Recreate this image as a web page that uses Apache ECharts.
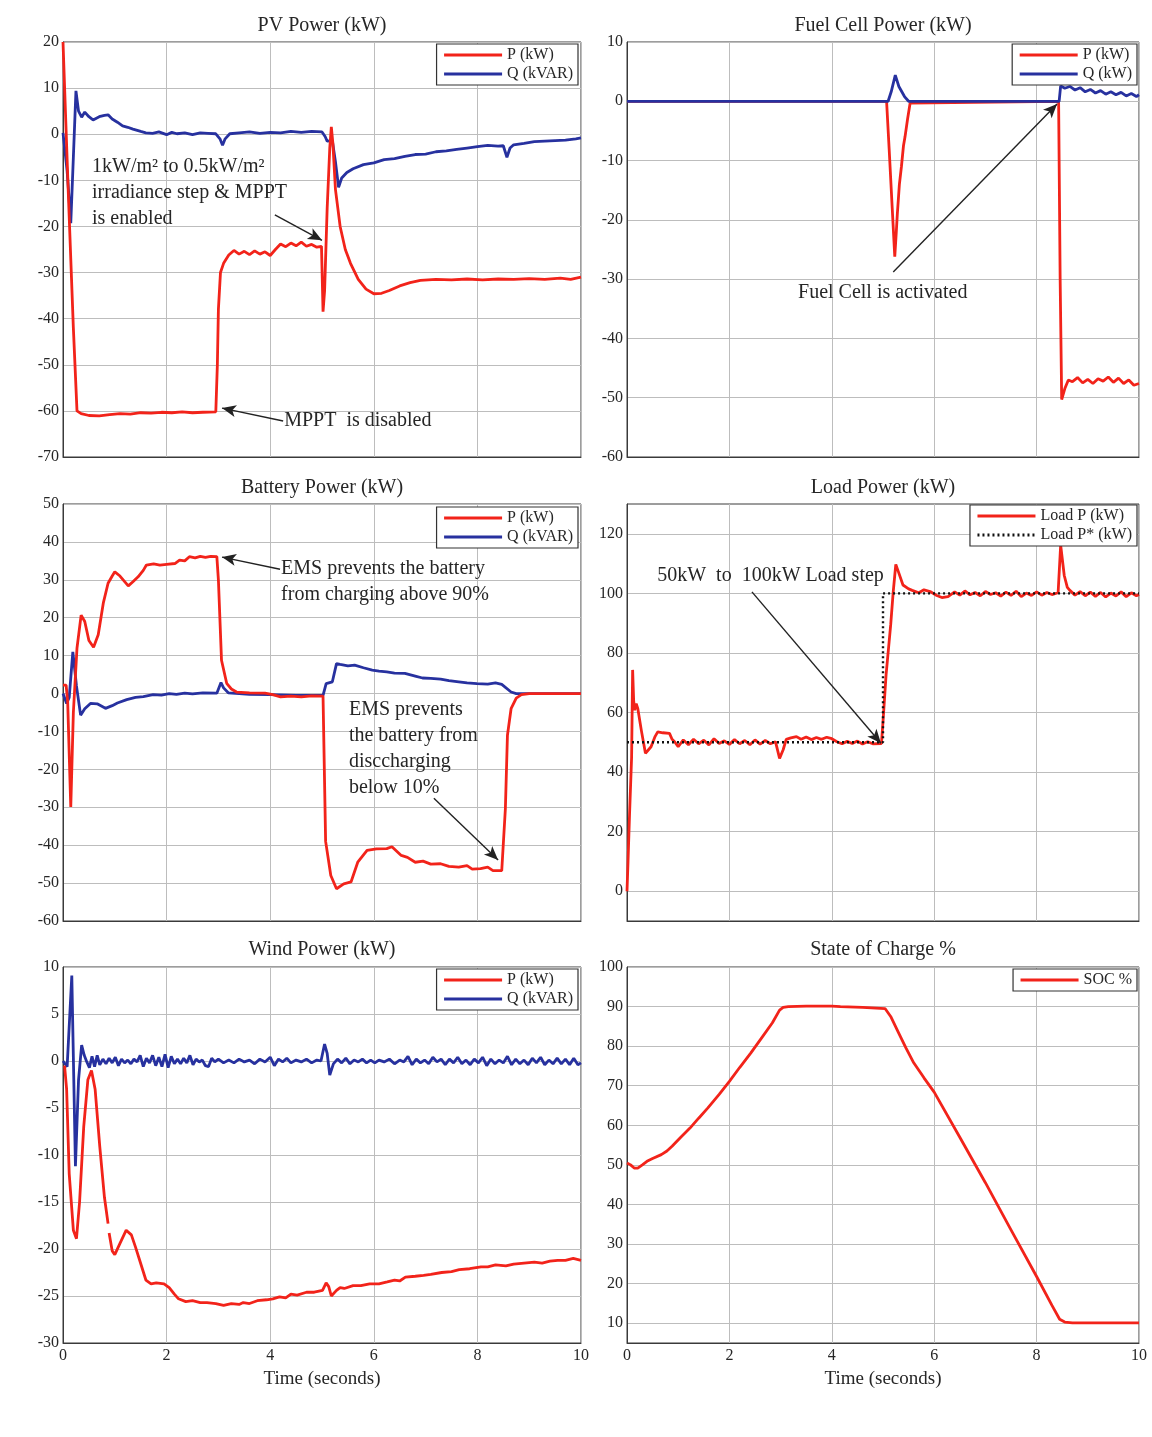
<!DOCTYPE html>
<html>
<head>
<meta charset="utf-8">
<script src="https://cdn.jsdelivr.net/npm/echarts@6/dist/echarts.min.js"></script>
<style>
  html, body { margin: 0; padding: 0; background: #fff; }
  #main { width: 1152px; height: 1437px; }
</style>
</head>
<body>
<div id="main"></div>
<script>
  // time axis ticks (seconds)
  var timeTicks = [0, 2, 4, 6, 8, 10];

  // PV power
  var pvP = [[0,20],[0.1,-12],[0.2,-42],[0.27,-60],[0.35,-60.6],[0.5,-61],[0.7,-61.1],[0.9,-60.8],[1.1,-60.6],[1.3,-60.7],[1.5,-60.4],[1.7,-60.5],[1.9,-60.3],[2.1,-60.4],[2.3,-60.2],[2.5,-60.4],[2.7,-60.3],[2.95,-60.2],
    [2.98,-50],[3.0,-38],[3.04,-30],[3.1,-28],[3.2,-26.2],[3.3,-25.2],[3.4,-26],[3.5,-25.4],[3.6,-26.1],[3.7,-25.3],[3.8,-26],[3.9,-25.5],[4.0,-26.3],[4.1,-25],[4.2,-23.8],[4.3,-24.4],[4.4,-23.6],[4.5,-24.2],[4.6,-23.4],[4.7,-24.3],[4.8,-23.9],[4.9,-24.5],[4.99,-24.3],
    [5.02,-38.5],[5.05,-34],[5.1,-16],[5.15,-3],[5.18,1.6],[5.21,-2],[5.26,-12],[5.35,-20],[5.45,-25],[5.55,-28],[5.7,-31.5],[5.85,-33.6],[6.0,-34.6],[6.15,-34.5],[6.3,-33.9],[6.5,-32.9],[6.7,-32.2],[6.9,-31.7],[7.2,-31.5],[7.5,-31.6],[7.8,-31.4],[8.1,-31.6],[8.4,-31.4],[8.7,-31.5],[9.0,-31.3],[9.3,-31.5],[9.6,-31.2],[9.8,-31.5],[10,-31]];
  var pvQ = [[0,0.3],[0.08,-8],[0.15,-19.3],[0.2,-5],[0.25,9.4],[0.3,5],[0.36,3.7],[0.42,4.8],[0.5,3.8],[0.58,3.1],[0.7,3.8],[0.8,4.1],[0.87,4.2],[0.95,3.3],[1.05,2.6],[1.15,1.8],[1.25,1.5],[1.35,1.1],[1.5,0.6],[1.6,0.3],[1.73,0.2],[1.85,0.5],[2.0,-0.1],[2.1,0.4],[2.2,0.1],[2.35,0.3],[2.5,-0.1],[2.65,0.3],[2.8,0.2],[2.95,0.1],
    [3.03,-1],[3.08,-2.4],[3.13,-1],[3.22,0.1],[3.4,0.3],[3.6,0.5],[3.8,0.2],[4.0,0.4],[4.2,0.3],[4.4,0.6],[4.6,0.4],[4.8,0.6],[5.0,0.5],[5.06,-0.5],[5.1,-1.5],[5.2,-1.4],[5.26,-6],[5.32,-11.5],[5.38,-9.5],[5.48,-8.3],[5.6,-7.5],[5.8,-6.6],[6.0,-6.2],[6.2,-5.5],[6.4,-5.3],[6.6,-4.8],[6.8,-4.4],[7.0,-4.3],[7.2,-3.8],[7.4,-3.6],[7.6,-3.3],[7.8,-3.0],[8.0,-2.7],[8.2,-2.4],[8.4,-2.6],[8.5,-2.5],[8.57,-5.0],[8.63,-3],[8.7,-2.3],[8.9,-2.0],[9.1,-1.6],[9.3,-1.5],[9.5,-1.4],[9.7,-1.3],[9.9,-1.0],[10,-0.8]];

  // Fuel cell power
  var fcP = [[0,0],[5.07,0],[5.12,-8],[5.18,-18],[5.23,-26.2],[5.26,-22],[5.28,-19],[5.32,-14],[5.36,-11],[5.4,-7.5],[5.43,-6],[5.48,-3],[5.53,-0.3],[5.56,0],[8.43,0],[8.46,-30],[8.49,-50.3],[8.55,-48.5],[8.62,-47],[8.7,-47.3],[8.8,-46.6],[8.9,-47.5],[9.0,-46.9],[9.1,-47.6],[9.2,-46.8],[9.3,-47.2],[9.4,-46.5],[9.5,-47.4],[9.6,-46.7],[9.7,-47.6],[9.8,-47.0],[9.9,-47.9],[10,-47.6]];
  var fcQ = [[0,0],[5.1,0],[5.16,1.6],[5.24,4.4],[5.31,2.5],[5.42,0.8],[5.5,0],[8.44,0],[8.47,2.6],[8.55,2.2],[8.65,2.5],[8.75,1.9],[8.85,2.3],[8.95,1.6],[9.05,2.0],[9.15,1.4],[9.25,1.8],[9.35,1.2],[9.45,1.6],[9.55,1.1],[9.65,1.5],[9.75,0.9],[9.85,1.3],[9.95,0.8],[10,1.1]];

  // Battery power
  var batP = [[0,2.2],[0.06,2.2],[0.09,-2],[0.15,-29.9],[0.2,-5],[0.27,12],[0.35,20.7],[0.42,19],[0.5,14],[0.59,12.2],[0.68,15.5],[0.78,24],[0.87,29.1],[0.95,31],[1.0,32.1],[1.1,31],[1.26,28.4],[1.35,29.5],[1.45,30.8],[1.55,32.5],[1.61,33.9],[1.75,34.2],[1.87,33.9],[2.0,34.1],[2.16,34.3],[2.25,35.2],[2.35,35.0],[2.44,36.1],[2.55,35.8],[2.65,36.2],[2.75,35.9],[2.85,36.2],[2.97,36.1],
    [3.0,30],[3.06,8.8],[3.16,2.7],[3.25,1.2],[3.35,0.4],[3.6,0.2],[3.9,0.1],[4.05,-0.3],[4.2,-0.9],[4.4,-0.7],[4.6,-0.9],[4.8,-0.6],[5.02,-0.7],[5.07,-39],[5.17,-48],[5.28,-51.5],[5.42,-50.2],[5.56,-49.7],[5.69,-44.5],[5.87,-41.4],[6.05,-41],[6.25,-40.9],[6.35,-40.4],[6.53,-42.7],[6.65,-43.2],[6.8,-44.5],[6.95,-44.2],[7.1,-45],[7.29,-44.9],[7.45,-45.6],[7.64,-45.8],[7.8,-45.4],[7.9,-46.3],[8.06,-46.2],[8.2,-45.8],[8.3,-46.7],[8.47,-46.7],
    [8.54,-30.4],[8.58,-11],[8.65,-4],[8.75,-1.2],[8.85,-0.3],[9.0,0],[10,0]];
  var batQ = [[0,0],[0.07,-2.6],[0.12,-1],[0.19,11],[0.26,2],[0.34,-5.7],[0.42,-4],[0.53,-2.6],[0.66,-2.7],[0.82,-3.9],[0.95,-3.2],[1.05,-2.5],[1.23,-1.6],[1.4,-1.0],[1.55,-0.8],[1.74,-0.3],[1.9,-0.4],[2.05,0],[2.19,-0.2],[2.35,0.1],[2.5,-0.1],[2.7,0.2],[2.97,0.1],[3.05,2.9],[3.1,1.5],[3.19,0.2],[3.4,0],[3.6,-0.2],[4.0,-0.3],[4.5,-0.5],[5.02,-0.5],
    [5.08,2.6],[5.2,3.1],[5.28,7.9],[5.35,7.7],[5.5,7.3],[5.63,7.5],[5.8,6.8],[5.97,6.2],[6.1,5.9],[6.25,5.7],[6.4,5.4],[6.6,5.3],[6.8,4.6],[6.94,4.1],[7.1,4.0],[7.29,3.8],[7.45,3.4],[7.64,3.1],[7.8,2.8],[7.99,2.6],[8.2,2.5],[8.35,2.8],[8.47,2.4],[8.65,0.4],[8.75,0],[10,0]];

  // Load power
  var loadP = [[0,0],[0.02,10],[0.05,26],[0.07,26],[0.09,45],[0.11,74.3],[0.13,64],[0.15,60.8],[0.18,63],[0.21,61.4],[0.28,54],[0.36,46.3],[0.42,47.5],[0.47,48.5],[0.55,52],[0.6,53.5],[0.7,53.2],[0.83,53],[0.88,51],[0.93,50.2],[1.0,48.5],[1.1,50.8],[1.2,49.2],[1.3,51],[1.4,49.5],[1.5,50.7],[1.6,49.1],[1.7,51.2],[1.8,49.6],[1.9,50.5],[2.0,49.3],[2.1,50.9],[2.2,49.5],[2.3,50.6],[2.4,49.2],[2.5,50.8],[2.6,49.4],[2.7,50.6],[2.8,49.5],[2.9,50.2],[2.98,44.6],[3.05,47.5],[3.11,51],[3.2,51.5],[3.31,51.9],[3.4,51.0],[3.5,51.8],[3.6,50.9],[3.7,51.6],[3.8,51.0],[3.9,51.7],[4.0,51.2],[4.1,50.2],[4.2,49.5],[4.3,50.3],[4.4,49.6],[4.5,50.4],[4.6,49.4],[4.7,50.2],[4.8,49.5],[4.97,49.6],
    [5.0,56.9],[5.06,72.6],[5.15,89.4],[5.2,100.6],[5.25,109.7],[5.3,107.3],[5.39,102.8],[5.5,101.5],[5.57,101],[5.7,100.2],[5.8,101.2],[5.92,100.6],[6.05,99.3],[6.15,98.6],[6.27,98.9],[6.4,100.5],[6.5,99.4],[6.6,100.8],[6.7,99.5],[6.8,100.3],[6.9,99.2],[7.0,100.6],[7.1,99.6],[7.2,100.2],[7.3,99.1],[7.4,100.4],[7.5,99.3],[7.6,100.7],[7.7,98.9],[7.8,100.1],[7.9,99.3],[8.0,100.5],[8.1,99.4],[8.2,100.3],[8.3,99.6],[8.42,100.2],
    [8.47,116.2],[8.54,106],[8.6,102],[8.65,101],[8.75,99.4],[8.85,100.6],[8.95,99.2],[9.05,100.4],[9.15,99.0],[9.25,100.3],[9.35,98.8],[9.45,100.1],[9.55,99.1],[9.65,100.5],[9.75,98.9],[9.85,100.2],[9.95,99.2],[10,99.6]];
  var loadRef = [[0,50],[5,50],[5,100],[10,100]];
  var loadTicks = [0, 20, 40, 60, 80, 100, 120];

  // Wind power
  var windP = [[0.03,-0.5],[0.07,-3],[0.12,-12],[0.2,-18],[0.26,-18.9],[0.32,-15],[0.4,-7],[0.48,-2],[0.55,-1.0],[0.62,-3],[0.71,-9.1],[0.8,-14.5],[0.87,-17.3],[0.88,null],[0.89,-18.3],[0.95,-20.2],[1.0,-20.6],[1.1,-19.4],[1.22,-18],[1.32,-18.5],[1.4,-19.8],[1.48,-21.2],[1.6,-23.3],[1.7,-23.7],[1.8,-23.6],[1.95,-23.7],[2.05,-24.1],[2.15,-24.8],[2.23,-25.3],[2.37,-25.6],[2.5,-25.5],[2.65,-25.7],[2.78,-25.7],[2.95,-25.8],[3.1,-26],[3.25,-25.8],[3.4,-25.9],[3.48,-25.7],[3.6,-25.8],[3.75,-25.5],[3.93,-25.4],[4.05,-25.3],[4.18,-25.1],[4.3,-25.2],[4.4,-24.8],[4.52,-24.9],[4.7,-24.6],[4.85,-24.6],[5.01,-24.4],
    [5.08,-23.6],[5.13,-24.0],[5.18,-25.0],[5.28,-24.4],[5.35,-24.1],[5.43,-24.2],[5.6,-23.9],[5.75,-23.9],[5.92,-23.7],[6.1,-23.7],[6.26,-23.5],[6.4,-23.3],[6.5,-23.4],[6.61,-23.0],[6.8,-22.9],[6.96,-22.8],[7.1,-22.7],[7.31,-22.5],[7.5,-22.4],[7.65,-22.2],[7.85,-22.1],[8.07,-21.9],[8.2,-21.9],[8.35,-21.7],[8.55,-21.8],[8.7,-21.6],[8.9,-21.5],[9.1,-21.4],[9.25,-21.5],[9.4,-21.3],[9.55,-21.2],[9.7,-21.2],[9.85,-21.0],[10,-21.2]];
  var windQ = [[0,0],[0.08,-0.6],[0.17,9.1],[0.24,-11.2],[0.3,-2],[0.36,1.7],[0.41,0.6],[0.46,-0.1],[0.51,-0.7],[0.56,0.5],[0.61,-0.6],[0.66,0.6],[0.71,-0.4],[0.77,0.2],[0.83,-0.3],[0.89,0.3],[0.95,-0.2],[1.01,0.4],[1.07,-0.5],[1.13,0.2],[1.19,-0.2],[1.25,0.1],[1.31,-0.3],[1.37,0.2],[1.43,-0.1],[1.49,0.6],[1.55,-0.6],[1.61,0.3],[1.67,-0.2],[1.73,0.6],[1.79,-0.5],[1.85,0.4],[1.91,-0.6],[1.97,0.7],[2.03,-0.7],[2.09,0.5],[2.15,-0.3],[2.21,0.2],[2.27,-0.3],[2.33,0.3],[2.39,-0.2],[2.45,0.6],[2.51,-0.4],[2.57,0.2],[2.63,-0.1],[2.69,0.1],[2.75,-0.5],[2.81,-0.6],[2.87,0.3],[2.93,-0.1],[3.0,0.2],[3.1,-0.2],[3.2,0.1],[3.3,-0.2],[3.4,0.2],[3.5,-0.1],[3.6,0.1],[3.7,-0.3],[3.8,0.2],[3.9,-0.1],[4.0,0.4],[4.08,-0.5],[4.16,0.2],[4.24,-0.1],[4.32,0.3],[4.4,-0.2],[4.5,0.1],[4.6,-0.1],[4.7,0.2],[4.8,-0.2],[4.9,0.1],[4.98,0],
    [5.05,1.8],[5.1,0.8],[5.15,-1.5],[5.22,-0.3],[5.3,0.2],[5.38,-0.2],[5.46,0.3],[5.54,-0.3],[5.62,0.1],[5.7,-0.1],[5.78,0.2],[5.86,-0.2],[5.94,0.1],[6.02,-0.2],[6.1,0.1],[6.2,-0.1],[6.3,0.2],[6.4,-0.3],[6.5,0.1],[6.58,-0.1],[6.66,0.5],[6.74,-0.4],[6.82,0.2],[6.9,-0.2],[6.98,0.1],[7.06,-0.3],[7.14,0.4],[7.22,-0.1],[7.3,0.2],[7.38,-0.4],[7.46,0.2],[7.54,-0.2],[7.62,0.4],[7.7,-0.3],[7.78,0.1],[7.86,-0.4],[7.94,0.2],[8.02,-0.2],[8.1,0.4],[8.18,-0.5],[8.26,0.2],[8.34,-0.3],[8.42,0.1],[8.5,-0.2],[8.58,0.5],[8.66,-0.4],[8.74,0.2],[8.82,-0.3],[8.9,0.1],[8.98,-0.4],[9.06,0.3],[9.14,-0.2],[9.22,0.4],[9.3,-0.4],[9.38,0.1],[9.46,-0.3],[9.54,0.3],[9.62,-0.3],[9.7,0.2],[9.78,-0.4],[9.86,0.3],[9.94,-0.4],[10,-0.2]];

  // State of charge
  var soc = [[0,50.5],[0.07,50],[0.14,49.2],[0.21,49.2],[0.3,50],[0.39,50.9],[0.5,51.6],[0.67,52.6],[0.78,53.5],[0.88,54.7],[1.05,57],[1.23,59.3],[1.4,61.8],[1.58,64.4],[1.8,67.8],[2.0,71.1],[2.2,74.6],[2.42,78.3],[2.63,82.1],[2.84,85.9],[2.98,89.1],[3.05,89.8],[3.15,90],[3.5,90.1],[4.0,90.1],[4.17,90],[4.6,89.8],[5.04,89.5],
    [5.15,87.5],[5.3,83.5],[5.45,79.5],[5.6,75.8],[5.8,72],[6.0,68.4],[6.5,57],[7.0,45.5],[7.5,33.6],[8.0,21.8],[8.3,14.5],[8.45,11],[8.55,10.3],[8.7,10.1],[10,10.1]];
  var socTicks = [10, 20, 30, 40, 50, 60, 70, 80, 90, 100];

  var RED = '#f2231a';
  var BLUE = '#27319f';
  var SERIF = 'Liberation Serif';
  var TXT = '#262626';

  var chart = echarts.init(document.getElementById('main'), null, { renderer: 'canvas' });

  var cells = [
    { left: 63, top: 42, width: 518, height: 415 },
    { left: 627, top: 42, width: 512, height: 415 },
    { left: 63, top: 504, width: 518, height: 417 },
    { left: 627, top: 504, width: 512, height: 417 },
    { left: 63, top: 967, width: 518, height: 376 },
    { left: 627, top: 967, width: 512, height: 376 }
  ];

  function mkX(i) {
    var bottom = i >= 4;
    return {
      type: 'value', gridIndex: i, min: 0, max: 10, interval: 2,
      axisLine: { show: true, onZero: false, lineStyle: { color: '#3a3a3a', width: 1 } },
      axisTick: { show: false },
      splitLine: { show: true, lineStyle: { color: '#bdbdbd', width: 1 } },
      axisLabel: { show: bottom, fontFamily: SERIF, fontSize: 16, color: TXT, margin: 5 },
      name: bottom ? 'Time (seconds)' : '', nameLocation: 'middle', nameGap: 27,
      nameTextStyle: { fontFamily: SERIF, fontSize: 19, color: TXT }
    };
  }

  function mkY(i, min, max, interval, custom) {
    var ax = {
      type: 'value', gridIndex: i, min: min, max: max,
      axisLine: { show: true, onZero: false, lineStyle: { color: '#3a3a3a', width: 1 } },
      axisTick: { show: false },
      splitLine: { show: true, lineStyle: { color: '#bdbdbd', width: 1 } },
      axisLabel: { fontFamily: SERIF, fontSize: 16, color: TXT, margin: 4 }
    };
    if (custom) {
      ax.axisTick.customValues = custom;
      ax.axisLabel.customValues = custom;
    } else {
      ax.interval = interval;
    }
    return ax;
  }

  function line(name, i, data, color, extra) {
    var s = {
      name: name, type: 'line', xAxisIndex: i, yAxisIndex: i, data: data,
      showSymbol: false, symbol: 'none', connectNulls: false,
      lineStyle: { color: color, width: 2.8 }, itemStyle: { color: color },
      silent: true, z: 2
    };
    for (var k in extra) s[k] = extra[k];
    return s;
  }

  function arrows(list) {
    return {
      silent: true, symbol: ['none', 'arrow'], symbolSize: [9, 14],
      lineStyle: { color: '#222', width: 1.4, type: 'solid' },
      label: { show: false },
      data: list.map(function (a) { return [{ coord: a[0] }, { coord: a[1] }]; })
    };
  }

  function notes(list) {
    return {
      silent: true, symbol: 'circle', symbolSize: 0,
      data: list.map(function (n) {
        return {
          coord: n[0], value: 0,
          label: {
            show: true, position: [0, 0], align: 'left', verticalAlign: 'top',
            formatter: n[1], fontFamily: SERIF, fontSize: 20, lineHeight: 26, color: TXT
          }
        };
      })
    };
  }

  function legend(names, pos) {
    return {
      data: names, orient: 'vertical', top: pos.top, right: pos.right, selectedMode: false,
      backgroundColor: '#fff', borderColor: '#333', borderWidth: 1.2, borderRadius: 0,
      padding: [3, 5, 3, 6], itemGap: 3, itemWidth: 58, itemHeight: 16,
      itemStyle: { opacity: 0 },
      lineStyle: { width: 3 },
      textStyle: { fontFamily: SERIF, fontSize: 16, color: TXT }
    };
  }

  var titleStyle = { fontFamily: SERIF, fontSize: 20, fontWeight: 'normal', color: TXT };
  function title(text, x, y) {
    return { text: text, left: x, top: y, textAlign: 'center', padding: 0, textStyle: titleStyle };
  }

  var option = {
    animation: false,
    backgroundColor: '#fff',
    title: [
      title('PV Power (kW)', 322, 16),
      title('Fuel Cell Power (kW)', 883, 16),
      title('Battery Power (kW)', 322, 478),
      title('Load Power (kW)', 883, 478),
      title('Wind Power (kW)', 322, 940),
      title('State of Charge %', 883, 940)
    ],
    legend: [
      legend(['P (kW)', 'Q (kVAR)'], { right: 574, top: 44 }),
      legend(['P (kW)', 'Q (kW)'], { right: 15, top: 44 }),
      legend(['P (kW)', 'Q (kVAR)'], { right: 574, top: 507 }),
      legend(['Load P (kW)', 'Load P* (kW)'], { right: 15, top: 505 }),
      legend(['P (kW)', 'Q (kVAR)'], { right: 574, top: 969 }),
      legend(['SOC %'], { right: 15, top: 969 })
    ],
    grid: cells.map(function (c) {
      return { left: c.left, top: c.top, width: c.width, height: c.height,
        show: true, borderColor: '#3a3a3a', borderWidth: 1, backgroundColor: '#fff' };
    }),
    xAxis: [mkX(0), mkX(1), mkX(2), mkX(3), mkX(4), mkX(5)],
    yAxis: [
      mkY(0, -70, 20, 10),
      mkY(1, -60, 10, 10),
      mkY(2, -60, 50, 10),
      mkY(3, -10, 130, 20, loadTicks),
      mkY(4, -30, 10, 5),
      mkY(5, 5, 100, 10, socTicks)
    ],
    series: [
      line('Q (kVAR)', 0, pvQ, BLUE),
      line('P (kW)', 0, pvP, RED, {
        z: 3,
        markLine: arrows([[[4.09, -17.5], [5.0, -23.0]], [[4.25, -62.2], [3.07, -59.4]]]),
        markPoint: notes([
          [[0.56, -4.3], '1kW/m² to 0.5kW/m²\nirradiance step & MPPT\nis enabled'],
          [[4.27, -59.4], 'MPPT  is disabled']
        ])
      }),
      line('Q (kW)', 1, fcQ, BLUE, { z: 3 }),
      line('P (kW)', 1, fcP, RED, {
        markLine: arrows([[[5.2, -28.8], [8.4, -0.45]]]),
        markPoint: notes([[[3.34, -30.1], 'Fuel Cell is activated']])
      }),
      line('Q (kVAR)', 2, batQ, BLUE),
      line('P (kW)', 2, batP, RED, {
        z: 3,
        markLine: arrows([[[4.19, 32.8], [3.07, 36.0]], [[7.16, -27.6], [8.4, -43.9]]]),
        markPoint: notes([
          [[4.21, 36.3], 'EMS prevents the battery\nfrom charging above 90%'],
          [[5.52, -0.9], 'EMS prevents\nthe battery from\ndisccharging\nbelow 10%']
        ])
      }),
      line('Load P (kW)', 3, loadP, RED, {
        markLine: arrows([[[2.44, 100.5], [4.96, 49.7]]]),
        markPoint: notes([[[0.59, 110.3], '50kW  to  100kW Load step']])
      }),
      line('Load P* (kW)', 3, loadRef, '#111', {
        z: 3, lineStyle: { color: '#111', width: 2.4, type: [2, 3] }
      }),
      line('Q (kVAR)', 4, windQ, BLUE),
      line('P (kW)', 4, windP, RED, { z: 3 }),
      line('SOC %', 5, soc, RED)
    ]
  };

  chart.setOption(option);
</script>
</body>
</html>
